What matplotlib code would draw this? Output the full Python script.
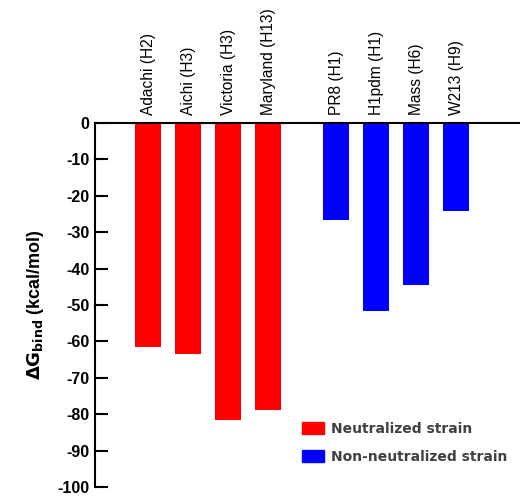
import matplotlib.pyplot as plt
from matplotlib.patches import Patch

strains = ["Adachi (H2)", "Aichi (H3)", "Victoria (H3)", "Maryland (H13)",
           "PR8 (H1)", "H1pdm (H1)", "Mass (H6)", "W213 (H9)"]
dg_bind = [-61.6, -63.4, -81.6, -78.8, -26.7, -51.6, -44.6, -24.3]
neutralized = [True, True, True, True, False, False, False, False]
yticks = list(range(0, -101, -10))

# red group, wider gap, then blue group
xpos = []
x = 0.0
for i, n in enumerate(neutralized):
    if i > 0:
        x += 1.0 if neutralized[i - 1] == n else 1.7
    xpos.append(x)
colors = ["#ff0000" if n else "#0000ff" for n in neutralized]

fig = plt.figure(figsize=(5.2, 4.96), dpi=100)
ax = fig.add_axes([0.183, 0.018, 0.817, 0.734])
ax.bar(xpos, dg_bind, width=0.65, color=colors)

ax.set_ylim(-100, 0)
ax.set_xlim(-1.33, 9.3)
ax.set_yticks(yticks)
ax.set_yticklabels([str(t) for t in yticks], fontfamily="Liberation Sans",
                   fontweight="bold", fontsize=11.5)
ax.tick_params(axis="y", direction="in", length=9, width=1.5, pad=4)
ax.set_xticks([])
for s in ["right", "bottom"]:
    ax.spines[s].set_visible(False)
ax.spines["left"].set_linewidth(1.5)
ax.spines["top"].set_linewidth(1.5)

for xp, name in zip(xpos, strains):
    ax.text(xp, 2.2, name, rotation=90, ha="center", va="bottom",
            fontfamily="Liberation Sans", fontsize=11.2)

ax.set_ylabel(r"$\mathbf{\Delta G_{bind}}$ (kcal/mol)", fontfamily="Liberation Sans",
              fontweight="bold", fontsize=13, labelpad=8)

handles = [Patch(color="#ff0000", label="Neutralized strain"),
           Patch(color="#0000ff", label="Non-neutralized strain")]
leg = ax.legend(handles=handles, loc="lower right", bbox_to_anchor=(1.0, 0.03),
                frameon=False, prop={"family": "DejaVu Sans", "weight": "bold", "size": 10},
                handlelength=1.6, handleheight=0.9, labelspacing=1.0, handletextpad=0.5)
for t in leg.get_texts():
    t.set_color("#404040")

fig.savefig("out.png", dpi=100)
